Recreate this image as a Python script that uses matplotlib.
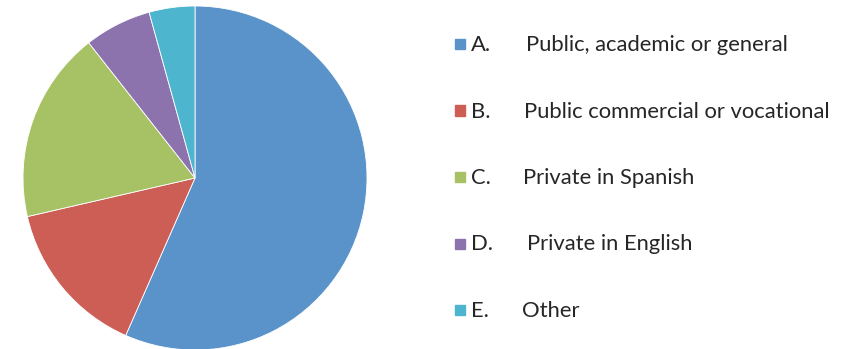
import matplotlib
matplotlib.use("Agg")
import matplotlib.pyplot as plt
from matplotlib.patches import Rectangle

letters = ["A.", "B.", "C.", "D.", "E."]
labels = ["Public, academic or general", "Public commercial or vocational",
          "Private in Spanish", "Private in English", "Other"]
values = [56.6, 14.8, 18.0, 6.3, 4.3]
colors = ["#5A93C9", "#CD5E55", "#A7C264", "#8D73AE", "#4DB6CE"]

W, H = 851, 349
fig = plt.figure(figsize=(W / 100, H / 100), dpi=100)

# pie centre ~ (195, 178) px, radius ~172 px
cx, cy, r = 195, 178, 172
ax = fig.add_axes([(cx - r) / W, (H - cy - r) / H, 2 * r / W, 2 * r / H])
ax.pie(values, colors=colors, startangle=90, counterclock=False, radius=1,
       wedgeprops=dict(linewidth=0.6, edgecolor="white"))
ax.set_xlim(-1, 1)
ax.set_ylim(-1, 1)
ax.set_aspect("auto")
ax.axis("off")

# legend column (label x nudges follow the original's uneven tabs)
row0, step = 45, 66.5
lab_x = [526, 524, 523, 527, 522]
for i, (let, lab, col) in enumerate(zip(letters, labels, colors)):
    y = H - (row0 + i * step)
    fig.patches.append(Rectangle((455 / W, (y - 4) / H), 10 / W, 10 / H,
                                 transform=fig.transFigure, color=col))
    fig.text(471 / W, y / H, let, fontsize=15.8, family="Lato",
             color="#262626", va="center", ha="left")
    fig.text(lab_x[i] / W, y / H, lab, fontsize=15.8, family="Lato",
             color="#262626", va="center", ha="left")

fig.savefig("out.png", dpi=100)
